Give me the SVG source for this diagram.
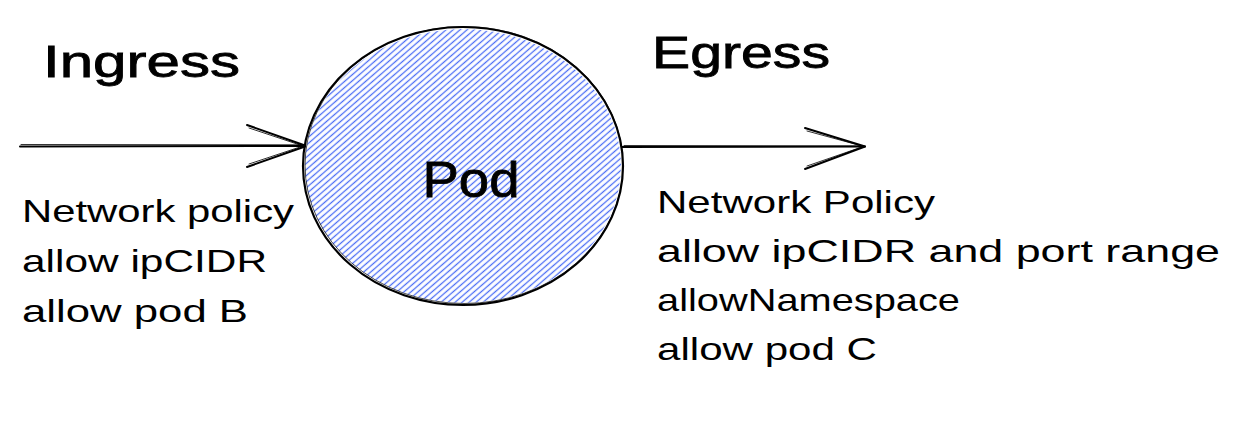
<svg xmlns="http://www.w3.org/2000/svg" width="1238" height="447" viewBox="0 0 1238 447">
  <style>
    .t { font-family: "Liberation Sans", "DejaVu Sans", sans-serif; fill: #000; }
    .title { font-size: 44px; stroke: #000; stroke-width: 0.8; }
    .body { font-size: 32px; }
    .edge { fill: none; stroke: #000; stroke-width: 2; stroke-linecap: round; stroke-linejoin: round; }
    .edge2 { fill: none; stroke: #000; stroke-width: 1; stroke-linecap: round; opacity: 0.8; }
  </style>
  <defs>
    <pattern id="hatch" patternUnits="userSpaceOnUse" width="12" height="4.6" patternTransform="rotate(-41)">
      <line x1="0" y1="2.3" x2="12" y2="2.3" stroke="#4c6ef5" stroke-width="1.3"/>
    </pattern>
  </defs>
  <rect width="1238" height="447" fill="#fff"/>

  <g id="connectors">
    <g id="ingress-arrow">
      <path class="edge" d="M20 146.5 L305 146"/>
      <path class="edge2" d="M21 144.5 L303 144.8"/>
      <path class="edge" d="M247 125 L305 145.5 M247 167 L305 146.5"/>
      <path class="edge2" d="M249 128 L303 146 M249 164 L303 146"/>
    </g>
    <g id="egress-arrow">
      <path class="edge" d="M622 147 L865 146.5"/>
      <path class="edge2" d="M624 145.5 L862 146"/>
      <path class="edge" d="M805 128 L865 146.5 M805 169 L865 146.5"/>
      <path class="edge2" d="M807 131 L862 146 M807 166 L862 147"/>
    </g>
  </g>

  <g id="pod">
    <ellipse cx="463" cy="166" rx="158" ry="137" fill="url(#hatch)"/>
    <ellipse cx="463" cy="166" rx="160" ry="139" fill="none" stroke="#000" stroke-width="2.2"/>
    <ellipse cx="464" cy="165" rx="159" ry="138.5" fill="none" stroke="#000" stroke-width="1" opacity="0.7"/>
    <text class="t" x="471" y="197" font-size="50" stroke="#000" stroke-width="0.8" text-anchor="middle" textLength="97" lengthAdjust="spacingAndGlyphs">Pod</text>
  </g>

  <g id="ingress-label">
    <text class="t title" x="43" y="77" textLength="197" lengthAdjust="spacingAndGlyphs">Ingress</text>
  </g>
  <g id="egress-label">
    <text class="t title" x="652" y="68" textLength="178" lengthAdjust="spacingAndGlyphs">Egress</text>
  </g>

  <g id="ingress-policy">
    <text class="t body" x="22" y="222" textLength="272" lengthAdjust="spacingAndGlyphs">Network policy</text>
    <text class="t body" x="22" y="272" textLength="245" lengthAdjust="spacingAndGlyphs">allow ipCIDR</text>
    <text class="t body" x="22" y="322" textLength="226" lengthAdjust="spacingAndGlyphs">allow pod B</text>
  </g>

  <g id="egress-policy">
    <text class="t body" x="657" y="213" textLength="278" lengthAdjust="spacingAndGlyphs">Network Policy</text>
    <text class="t body" x="657" y="262" textLength="563" lengthAdjust="spacingAndGlyphs">allow ipCIDR and port range</text>
    <text class="t body" x="657" y="311" textLength="303" lengthAdjust="spacingAndGlyphs">allowNamespace</text>
    <text class="t body" x="657" y="360" textLength="220" lengthAdjust="spacingAndGlyphs">allow pod C</text>
  </g>
</svg>
